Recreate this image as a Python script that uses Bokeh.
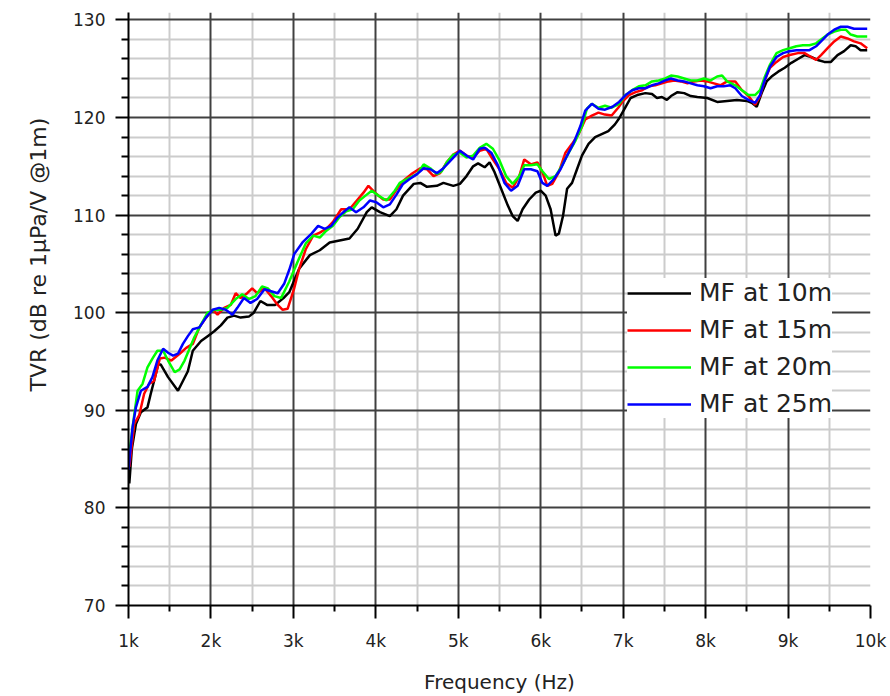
import math
from bokeh.plotting import figure
from bokeh.models import (FixedTicker, Grid, Legend, LegendItem, Range1d, Title)
from bokeh.embed import file_html
from bokeh.resources import INLINE

# ---------------- data (frequency in kHz, TVR in dB re 1uPa/V @1m) ----------------
x_ticks = [1, 2, 3, 4, 5, 6, 7, 8, 9, 10]
x_tick_labels = ["1k", "2k", "3k", "4k", "5k", "6k", "7k", "8k", "9k", "10k"]
y_ticks = [70, 80, 90, 100, 110, 120, 130]

series_names = ["MF at 10m", "MF at 15m", "MF at 20m", "MF at 25m"]
series_colors = ["#000000", "#ff0000", "#00ff00", "#0000ff"]

f_10m = [1.01, 1.04, 1.09, 1.15, 1.23, 1.27, 1.31, 1.36, 1.39, 1.48, 1.6, 1.66, 1.72, 1.78, 1.88,
         1.96, 2.04, 2.12, 2.2, 2.28, 2.36, 2.46, 2.52, 2.6, 2.68, 2.78, 2.88, 2.95, 3.07, 3.2,
         3.32, 3.44, 3.56, 3.68, 3.78, 3.89, 3.95, 4.05, 4.17, 4.25, 4.33, 4.46, 4.54, 4.62, 4.74,
         4.82, 4.94, 5.02, 5.1, 5.18, 5.24, 5.32, 5.38, 5.44, 5.52, 5.6, 5.66, 5.72, 5.78, 5.86,
         5.94, 6.0, 6.06, 6.12, 6.18, 6.22, 6.27, 6.32, 6.38, 6.44, 6.5, 6.58, 6.66, 6.74, 6.82,
         6.9, 6.95, 7.03, 7.09, 7.17, 7.27, 7.35, 7.41, 7.47, 7.53, 7.58, 7.66, 7.74, 7.82, 7.9,
         8.02, 8.14, 8.26, 8.38, 8.5, 8.56, 8.62, 8.68, 8.74, 8.8, 8.88, 8.96, 9.04, 9.12, 9.2,
         9.28, 9.36, 9.44, 9.52, 9.6, 9.68, 9.76, 9.82, 9.88, 9.96]
tvr_10m = [82.5, 86.0, 88.6, 89.8, 90.3, 91.7, 93.0, 94.7, 94.7, 93.4, 92.0, 93.0, 94.0, 96.1, 97.1,
           97.6, 98.1, 98.7, 99.5, 99.7, 99.5, 99.6, 100.0, 101.2, 100.8, 100.8, 101.5, 102.1, 104.5, 105.9,
           106.4, 107.2, 107.4, 107.6, 108.6, 110.3, 110.8, 110.3, 109.9, 110.6, 112.0, 113.2, 113.3, 112.9, 113.0,
           113.3, 113.0, 113.2, 114.0, 115.0, 115.3, 114.9, 115.4, 114.4, 112.7, 111.0, 109.9, 109.4, 110.6, 111.6,
           112.3, 112.5, 112.0, 110.6, 107.9, 108.1, 109.9, 112.7, 113.3, 114.7, 116.1, 117.3, 118.0, 118.3, 118.6,
           119.3, 119.9, 121.1, 122.0, 122.3, 122.5, 122.4, 122.0, 122.1, 121.8, 122.2, 122.6, 122.5, 122.2, 122.1,
           122.0, 121.6, 121.7, 121.8, 121.7, 121.5, 121.1, 122.5, 123.7, 124.2, 124.7, 125.1, 125.6, 126.0, 126.4,
           126.2, 125.9, 125.7, 125.7, 126.4, 126.8, 127.4, 127.3, 126.9, 126.9]

f_15m = [1.01, 1.07, 1.13, 1.19, 1.25, 1.31, 1.38, 1.44, 1.52, 1.62, 1.7, 1.78, 1.86, 1.94, 2.02,
         2.08, 2.16, 2.24, 2.3, 2.36, 2.44, 2.5, 2.56, 2.65, 2.73, 2.81, 2.87, 2.93, 3.01, 3.07,
         3.15, 3.24, 3.32, 3.4, 3.48, 3.58, 3.68, 3.78, 3.85, 3.91, 3.99, 4.09, 4.17, 4.25, 4.33,
         4.43, 4.54, 4.62, 4.7, 4.78, 4.86, 4.94, 5.02, 5.1, 5.18, 5.26, 5.34, 5.42, 5.5, 5.58,
         5.66, 5.74, 5.8, 5.88, 5.96, 6.02, 6.08, 6.14, 6.22, 6.3, 6.38, 6.46, 6.54, 6.62, 6.7,
         6.78, 6.86, 6.94, 6.99, 7.07, 7.15, 7.23, 7.31, 7.39, 7.47, 7.55, 7.62, 7.7, 7.78, 7.86,
         7.94, 8.02, 8.1, 8.18, 8.26, 8.36, 8.44, 8.52, 8.6, 8.66, 8.72, 8.78, 8.86, 8.94, 9.02,
         9.12, 9.2, 9.28, 9.34, 9.4, 9.48, 9.56, 9.64, 9.72, 9.8, 9.88, 9.96]
tvr_15m = [84.2, 88.6, 89.5, 91.7, 92.7, 93.0, 95.3, 95.4, 95.1, 95.8, 96.4, 96.8, 98.5, 99.5, 100.3,
           99.8, 100.5, 100.8, 102.0, 101.5, 102.0, 102.5, 102.0, 102.5, 101.7, 100.8, 100.3, 100.4, 102.5, 104.5,
           106.5, 107.9, 108.2, 108.6, 109.3, 110.6, 110.6, 111.6, 112.3, 113.0, 112.3, 111.6, 111.6, 112.6, 113.5,
           114.2, 114.8, 114.7, 114.0, 114.3, 115.4, 116.2, 116.6, 116.1, 115.9, 116.6, 116.8, 115.7, 114.7, 113.3,
           112.8, 114.0, 115.7, 115.2, 115.4, 114.4, 113.0, 113.2, 114.4, 116.4, 117.3, 118.3, 119.8, 120.2, 120.5,
           120.3, 120.2, 121.0, 121.6, 122.3, 122.6, 122.8, 123.2, 123.3, 123.5, 123.7, 123.8, 123.7, 123.5, 123.7,
           123.8, 123.7, 123.5, 123.3, 123.7, 123.7, 122.8, 122.2, 121.3, 122.2, 123.9, 125.1, 125.7, 126.2, 126.4,
           126.6, 126.6, 126.2, 125.9, 126.4, 127.1, 127.8, 128.3, 128.1, 127.8, 127.6, 127.1]

f_20m = [1.01, 1.05, 1.11, 1.17, 1.23, 1.29, 1.35, 1.42, 1.48, 1.56, 1.62, 1.68, 1.74, 1.8, 1.88,
         1.96, 2.04, 2.12, 2.2, 2.3, 2.38, 2.46, 2.54, 2.62, 2.69, 2.77, 2.85, 2.95, 3.05, 3.15,
         3.24, 3.32, 3.4, 3.48, 3.56, 3.64, 3.72, 3.8, 3.89, 3.95, 4.03, 4.13, 4.23, 4.29, 4.4,
         4.5, 4.58, 4.66, 4.74, 4.8, 4.86, 4.94, 5.02, 5.1, 5.18, 5.26, 5.34, 5.42, 5.5, 5.58,
         5.66, 5.74, 5.8, 5.88, 5.96, 6.02, 6.1, 6.18, 6.26, 6.34, 6.42, 6.5, 6.56, 6.62, 6.7,
         6.78, 6.86, 6.95, 7.03, 7.11, 7.19, 7.27, 7.35, 7.43, 7.51, 7.58, 7.66, 7.74, 7.82, 7.9,
         7.98, 8.06, 8.14, 8.2, 8.26, 8.36, 8.44, 8.52, 8.6, 8.66, 8.72, 8.78, 8.86, 8.94, 9.02,
         9.1, 9.18, 9.26, 9.34, 9.4, 9.48, 9.56, 9.64, 9.7, 9.76, 9.84, 9.96]
tvr_20m = [85.6, 88.3, 92.0, 92.7, 94.4, 95.3, 96.1, 96.1, 95.1, 93.9, 94.2, 95.1, 96.3, 97.5, 98.8,
           100.0, 100.3, 100.3, 100.5, 101.4, 101.9, 101.4, 101.7, 102.7, 102.5, 101.7, 101.5, 103.2, 105.2, 107.1,
           107.9, 107.7, 108.4, 108.9, 109.8, 110.4, 110.6, 111.5, 112.1, 112.5, 112.0, 111.5, 112.5, 113.3, 113.8,
           114.2, 115.2, 114.8, 114.2, 114.5, 115.4, 116.2, 116.4, 115.9, 116.1, 116.9, 117.3, 116.8, 115.6, 114.0,
           113.2, 114.0, 115.1, 115.1, 115.2, 114.5, 113.7, 114.0, 115.1, 116.4, 117.6, 119.1, 120.9, 121.4, 121.0,
           121.2, 121.0, 121.4, 122.3, 122.8, 123.2, 123.3, 123.7, 123.8, 124.0, 124.3, 124.2, 124.0, 123.8, 123.8,
           124.0, 123.8, 124.2, 124.3, 123.7, 123.3, 122.8, 122.3, 122.3, 122.8, 124.2, 125.4, 126.6, 126.9, 127.1,
           127.3, 127.4, 127.4, 127.6, 128.0, 128.5, 128.8, 129.0, 129.0, 128.5, 128.3, 128.3]

f_25m = [1.0, 1.05, 1.09, 1.15, 1.23, 1.29, 1.35, 1.42, 1.48, 1.54, 1.6, 1.66, 1.72, 1.78, 1.86,
         1.94, 2.02, 2.1, 2.18, 2.26, 2.32, 2.4, 2.48, 2.56, 2.65, 2.73, 2.81, 2.89, 2.95, 3.01,
         3.11, 3.22, 3.3, 3.38, 3.46, 3.54, 3.62, 3.68, 3.76, 3.85, 3.93, 4.01, 4.09, 4.17, 4.25,
         4.33, 4.41, 4.5, 4.58, 4.66, 4.74, 4.82, 4.94, 5.02, 5.1, 5.18, 5.26, 5.32, 5.4, 5.48,
         5.56, 5.64, 5.72, 5.8, 5.88, 5.96, 6.02, 6.08, 6.16, 6.24, 6.32, 6.4, 6.48, 6.54, 6.62,
         6.7, 6.78, 6.87, 6.95, 7.03, 7.11, 7.19, 7.27, 7.35, 7.43, 7.51, 7.58, 7.66, 7.74, 7.82,
         7.9, 7.98, 8.06, 8.14, 8.22, 8.3, 8.36, 8.44, 8.52, 8.6, 8.66, 8.72, 8.78, 8.86, 8.94,
         9.02, 9.1, 9.18, 9.26, 9.34, 9.4, 9.48, 9.56, 9.64, 9.72, 9.8, 9.96]
tvr_25m = [83.9, 88.3, 90.3, 92.0, 92.4, 93.4, 95.1, 96.3, 95.9, 95.6, 95.8, 96.8, 97.6, 98.3, 98.5,
           99.5, 100.3, 100.5, 100.3, 99.8, 100.5, 101.5, 101.0, 101.4, 102.4, 102.2, 102.0, 103.0, 104.4, 106.0,
           107.2, 108.1, 108.9, 108.6, 108.9, 109.8, 110.4, 110.8, 110.3, 110.8, 111.5, 111.3, 110.8, 111.1, 112.1,
           113.2, 113.7, 114.2, 114.8, 114.7, 114.3, 114.8, 115.9, 116.6, 116.1, 115.7, 116.8, 116.9, 116.4, 115.1,
           113.3, 112.5, 113.0, 114.7, 114.7, 114.5, 113.3, 113.0, 113.7, 114.7, 116.1, 117.4, 119.1, 120.7, 121.4,
           120.9, 120.8, 121.1, 121.6, 122.3, 122.8, 123.0, 123.0, 123.3, 123.5, 123.8, 124.0, 123.8, 123.7, 123.5,
           123.3, 123.2, 123.0, 123.2, 123.2, 123.3, 123.0, 122.2, 121.8, 121.5, 122.3, 123.9, 125.2, 126.2, 126.6,
           126.8, 126.9, 126.9, 126.9, 127.3, 127.8, 128.5, 129.0, 129.3, 129.3, 129.1, 129.1]

x_label = "Frequency (Hz)"
y_label = "TVR (dB re 1\u00b5Pa/V @1m)"

# ---------------- figure ----------------
FONT = "DejaVu Sans"
p = figure(width=890, height=696, output_backend="svg", toolbar_location=None,
           x_range=Range1d(1, 10), y_range=Range1d(70, 130.76),
           min_border_left=128, min_border_right=20, min_border_top=12, min_border_bottom=87)
p.background_fill_color = "white"
p.border_fill_color = "white"
p.outline_line_color = None

xticker = FixedTicker(ticks=x_ticks, minor_ticks=[t + 0.5 for t in x_ticks[:-1]])
yticker = FixedTicker(ticks=y_ticks, minor_ticks=[v for v in range(70, 131, 2) if v % 10 != 0])

p.xaxis.ticker = xticker
p.yaxis.ticker = yticker
p.xaxis.major_label_overrides = {t: l for t, l in zip(x_ticks, x_tick_labels)}

for ax in (p.xaxis[0], p.yaxis[0]):
    ax.axis_line_color = "#000000"
    ax.axis_line_width = 2
    ax.major_tick_line_color = "#000000"
    ax.major_tick_line_width = 2
    ax.minor_tick_line_color = "#000000"
    ax.minor_tick_line_width = 2
    ax.major_tick_in = 0
    ax.minor_tick_in = 0
    ax.major_tick_out = 13
    ax.minor_tick_out = 7
    ax.major_label_text_font = FONT
    ax.major_label_text_font_size = "17px"
    ax.major_label_text_color = "#222222"
    ax.major_label_standoff = 10

p.xaxis.minor_tick_out = 6
p.xaxis.major_label_standoff = 12
p.xaxis.axis_label = x_label
p.xaxis.axis_label_text_font = FONT
p.xaxis.axis_label_text_font_size = "20px"
p.xaxis.axis_label_text_font_style = "normal"
p.xaxis.axis_label_text_color = "#222222"
p.xaxis.axis_label_standoff = 16

# grids: minor first, then major on top
p.xgrid.grid_line_color = None
p.ygrid.grid_line_color = None
p.xgrid.minor_grid_line_color = "#cccccc"
p.ygrid.minor_grid_line_color = "#cccccc"
p.xgrid.minor_grid_line_width = 2
p.ygrid.minor_grid_line_width = 2
gx = Grid(dimension=0, ticker=xticker, grid_line_color="#404040", grid_line_width=2)
gy = Grid(dimension=1, ticker=yticker, grid_line_color="#404040", grid_line_width=2)
p.add_layout(gx, "center")
p.add_layout(gy, "center")

# lines
all_f = [f_10m, f_15m, f_20m, f_25m]
all_v = [tvr_10m, tvr_15m, tvr_20m, tvr_25m]
items = []
for name, color, fx, vy in zip(series_names, series_colors, all_f, all_v):
    r = p.line(fx, vy, line_color=color, line_width=2.5)
    items.append(LegendItem(label=name, renderers=[r]))

legend = Legend(items=items, location=(499, 187))
legend.background_fill_color = "white"
legend.background_fill_alpha = 1.0
legend.border_line_color = None
legend.label_text_font = FONT
legend.label_text_font_size = "25px"
legend.label_text_color = "#222222"
legend.glyph_width = 64
legend.glyph_height = 24
legend.label_height = 24
legend.label_standoff = 8
legend.spacing = 8
legend.padding = 11
legend.margin = 0
p.add_layout(legend, "center")

# y axis title (placed off-centre as in the reference)
ytitle = Title(text=y_label, align="left", offset=214, standoff=40,
               text_font=FONT, text_font_size="22px", text_font_style="normal",
               text_color="#222222")
p.add_layout(ytitle, "left")

open("out.html", "w").write(file_html(p, INLINE))
